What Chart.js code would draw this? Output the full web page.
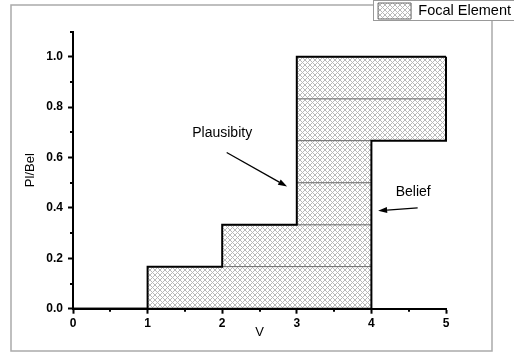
<!DOCTYPE html>
<html>
<head>
<meta charset="utf-8">
<script src="https://cdn.jsdelivr.net/npm/chart.js@4"></script>
<style>
  html, body { margin: 0; padding: 0; background: #fff; }
  canvas { display: block; }
</style>
</head>
<body>
<canvas id="chart" width="514" height="354"></canvas>
<script>
// --- Données ---
const xTicks = [0, 1, 2, 3, 4, 5];
const xMinorTicks = [0.5, 1.5, 2.5, 3.5, 4.5];
const yTicks = [0, 0.2, 0.4, 0.6, 0.8, 1.0];
const yMinorTicks = [0.1, 0.3, 0.5, 0.7, 0.9, 1.1];

// Éléments focaux (bandes hachurées)
const focalFrom   = [1, 2, 3, 3, 3, 3];
const focalTo     = [4, 4, 4, 4, 5, 5];
const focalBottom = [0, 0.167, 0.333, 0.5, 0.667, 0.833];
const focalTop    = [0.167, 0.333, 0.5, 0.667, 0.833, 1.0];

// Courbes en escalier
const plausX  = [0, 1, 2, 3, 5];
const plausY  = [0, 0.167, 0.333, 1, 1];
const beliefX = [0, 4, 5];
const beliefY = [0, 0.667, 1];

// Annotations (coordonnées en unités des axes)
const notes = [
    { text: 'Plausibity', x: 2.0, y: 0.696, from: [2.06, 0.62], to: [2.87, 0.485] },
    { text: 'Belief',     x: 4.56, y: 0.462, from: [4.62, 0.40], to: [4.09, 0.389] }
];

const FONT = "'Liberation Sans', Arial, Helvetica, sans-serif";

// --- Motif hachuré croisé ---
function makeHatch(ctx) {
    const tile = document.createElement('canvas');
    tile.width = 5; tile.height = 5;
    const t = tile.getContext('2d');
    t.fillStyle = '#fff';
    t.fillRect(0, 0, 5, 5);
    t.fillStyle = '#b8b8b8';
    for (let i = 0; i < 5; i++) {
        t.fillRect(i, i, 1, 1);
        t.fillRect(4 - i, i, 1, 1);
    }
    return ctx.createPattern(tile, 'repeat');
}

const canvas = document.getElementById('chart');
const hatch = makeHatch(canvas.getContext('2d'));

const datasets = focalFrom.map((x0, i) => ({
    label: 'Focal Element',
    data: [{ x: x0, y: focalTop[i] }, { x: focalTo[i], y: focalTop[i] }],
    fill: { value: focalBottom[i] },
    backgroundColor: hatch,
    borderColor: '#666',
    borderWidth: 1,
    pointRadius: 0,
    order: 2
}));

datasets.push({
    label: 'Plausibility',
    data: plausX.map((x, i) => ({ x, y: plausY[i] })),
    stepped: 'before',
    fill: false,
    borderColor: '#000',
    borderWidth: 2,
    pointRadius: 0,
    clip: 4,
    order: 0
});
datasets.push({
    label: 'Belief',
    data: beliefX.map((x, i) => ({ x, y: beliefY[i] })),
    stepped: 'before',
    fill: false,
    borderColor: '#000',
    borderWidth: 2,
    pointRadius: 0,
    clip: 4,
    order: 0
});

// --- Plugins maison ---
const framePlugin = {
    id: 'frame',
    beforeInit(chart) {
        // un peu d'espace sous la légende
        const fit = chart.legend.fit;
        chart.legend.fit = function () {
            fit.bind(chart.legend)();
            this.height += 2.6;
        };
    },
    beforeDraw(chart) {
        const ctx = chart.ctx;
        ctx.save();
        ctx.fillStyle = '#fff';
        ctx.fillRect(0, 0, chart.width, chart.height);
        ctx.strokeStyle = '#aaa';
        ctx.lineWidth = 1.5;
        ctx.strokeRect(11, 5, 481, 346);
        // cadre de la légende
        ctx.fillStyle = '#fff';
        ctx.fillRect(373, 0.5, 150, 20);
        ctx.strokeStyle = '#999';
        ctx.lineWidth = 1;
        ctx.strokeRect(373.5, 0.5, 150, 20);
        ctx.restore();
    }
};

const minorTicksPlugin = {
    id: 'minorTicks',
    afterDraw(chart) {
        const { ctx, scales: { x, y }, chartArea } = chart;
        ctx.save();
        ctx.strokeStyle = '#000';
        ctx.lineWidth = 2;
        ctx.beginPath();
        xMinorTicks.forEach(v => {
            const px = Math.round(x.getPixelForValue(v));
            ctx.moveTo(px, chartArea.bottom);
            ctx.lineTo(px, chartArea.bottom + 3);
        });
        yMinorTicks.forEach(v => {
            const py = Math.round(y.getPixelForValue(v));
            ctx.moveTo(chartArea.left, py);
            ctx.lineTo(chartArea.left - 3, py);
        });
        ctx.stroke();
        ctx.restore();
    }
};

const notesPlugin = {
    id: 'notes',
    afterDatasetsDraw(chart) {
        const { ctx, scales: { x, y } } = chart;
        ctx.save();
        ctx.fillStyle = '#000';
        ctx.strokeStyle = '#000';
        ctx.font = '14px ' + FONT;
        ctx.textAlign = 'center';
        ctx.textBaseline = 'middle';
        notes.forEach(n => {
            ctx.fillText(n.text, x.getPixelForValue(n.x), y.getPixelForValue(n.y));
            const x1 = x.getPixelForValue(n.from[0]), y1 = y.getPixelForValue(n.from[1]);
            const x2 = x.getPixelForValue(n.to[0]),   y2 = y.getPixelForValue(n.to[1]);
            const a = Math.atan2(y2 - y1, x2 - x1);
            const len = 9, half = 3;
            const bx = x2 - len * Math.cos(a), by = y2 - len * Math.sin(a);
            ctx.lineWidth = 1.3;
            ctx.beginPath();
            ctx.moveTo(x1, y1);
            ctx.lineTo(bx, by);
            ctx.stroke();
            ctx.beginPath();
            ctx.moveTo(x2, y2);
            ctx.lineTo(bx + half * Math.sin(a), by - half * Math.cos(a));
            ctx.lineTo(bx - half * Math.sin(a), by + half * Math.cos(a));
            ctx.closePath();
            ctx.fill();
        });
        ctx.restore();
    }
};

const tickFont = { family: FONT, size: 12, weight: 'bold' };
const axisGrid = { drawOnChartArea: false, drawTicks: true, tickLength: 5, tickWidth: 2, tickColor: '#000' };
const axisBorder = { display: true, width: 2, color: '#000' };

new Chart(canvas, {
    type: 'line',
    data: { datasets },
    options: {
        responsive: false,
        animation: false,
        layout: { padding: 0 },
        plugins: {
            legend: {
                position: 'top',
                align: 'end',
                labels: {
                    boxWidth: 33,
                    boxHeight: 16,
                    padding: 3,
                    color: '#000',
                    font: { family: FONT, size: 14.5 },
                    filter: item => item.datasetIndex === 0
                }
            },
            tooltip: { enabled: false }
        },
        scales: {
            x: {
                type: 'linear',
                min: 0, max: 5,
                afterBuildTicks: s => { s.ticks = xTicks.map(v => ({ value: v })); },
                afterFit: s => { s.height = 45.3; },
                grid: axisGrid,
                border: axisBorder,
                ticks: { color: '#000', font: tickFont, padding: 3, maxRotation: 0 },
                title: { display: true, text: 'V', color: '#000', font: { family: FONT, size: 13 }, padding: { top: 0, bottom: 13.5 } }
            },
            y: {
                type: 'linear',
                min: 0, max: 1.1,
                afterBuildTicks: s => { s.ticks = yTicks.map(v => ({ value: v })); },
                afterFit: s => { s.width = 73; },
                grid: axisGrid,
                border: axisBorder,
                ticks: { color: '#000', font: tickFont, padding: 5, callback: v => v.toFixed(1) },
                title: { display: true, text: 'Pl/Bel', color: '#000', font: { family: FONT, size: 13 }, padding: { top: 23, bottom: 0 } }
            },
            y2: {
                type: 'linear',
                position: 'right',
                display: true,
                grid: { display: false },
                border: { display: false },
                ticks: { display: false },
                afterFit: s => { s.width = 68; }
            }
        }
    },
    plugins: [framePlugin, minorTicksPlugin, notesPlugin]
});
</script>
</body>
</html>
